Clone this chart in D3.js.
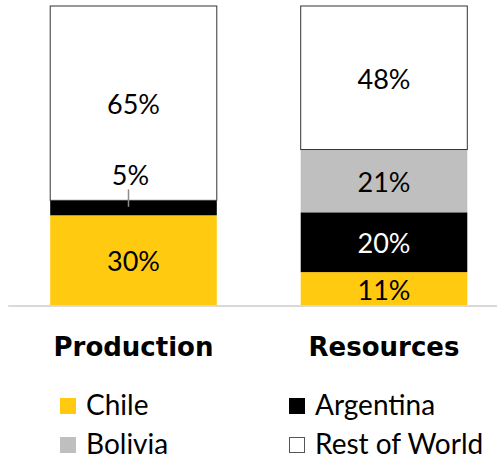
<!DOCTYPE html>
<html>
<head>
<meta charset="utf-8">
<script src="https://cdn.jsdelivr.net/npm/d3@7"></script>
<style>
  body { margin: 0; background: #fff; }
  svg { display: block; font-family: "Lato", "Open Sans", sans-serif; }
  .cat { font-family: "DejaVu Sans", sans-serif; }
</style>
</head>
<body>
<div id="chart"></div>
<script>
// categories and series (shares of total)
var categories = ["Production", "Resources"];
var countries = ["Chile", "Argentina", "Bolivia", "Rest of World"];
var chile = [0.30, 0.11];
var argentina = [0.05, 0.20];
var bolivia = [0.00, 0.21];
var restOfWorld = [0.65, 0.48];
var labels = {
  "Chile": ["30%", "11%"],
  "Argentina": ["5%", "20%"],
  "Bolivia": ["", "21%"],
  "Rest of World": ["65%", "48%"]
};
var legendOrder = [["Chile", "Argentina"], ["Bolivia", "Rest of World"]];

var pwidth = 497;
var pheight = 460;

var colors = {
  "Chile": "#ffca0f",
  "Argentina": "#000000",
  "Bolivia": "#bfbfbf",
  "Rest of World": "#ffffff"
};
var textColors = {
  "Chile": "#000",
  "Argentina": "#fff",
  "Bolivia": "#000",
  "Rest of World": "#000"
};

// build table for the stack
var table = categories.map(function(c, i) {
  return {
    category: c,
    "Chile": chile[i],
    "Argentina": argentina[i],
    "Bolivia": bolivia[i],
    "Rest of World": restOfWorld[i]
  };
});

var xScale = d3.scaleBand()
  .domain(categories)
  .range([8.25, 509.25])
  .paddingInner(0.335)
  .paddingOuter(0.1675);

var yScale = d3.scaleLinear()
  .domain([0, 1])
  .range([305, 6]);

var stack = d3.stack().keys(countries);
var series = stack(table);

var svg = d3.select("#chart").append("svg")
  .attr("width", pwidth)
  .attr("height", pheight);

// bars
var groups = svg.selectAll("g.series")
  .data(series)
  .enter().append("g")
  .attr("class", "series");

groups.selectAll("rect")
  .data(function(s) { return s.map(function(d) { return {key: s.key, d: d}; }); })
  .enter().append("rect")
  .filter(function(o) { return o.d[1] - o.d[0] > 0; })
  .attr("x", function(o) { return xScale(o.d.data.category); })
  .attr("width", xScale.bandwidth())
  .attr("y", function(o) { return yScale(o.d[1]); })
  .attr("height", function(o) { return yScale(o.d[0]) - yScale(o.d[1]); })
  .attr("fill", function(o) { return colors[o.key]; })
  .attr("stroke", function(o) { return o.key == "Rest of World" ? "#333" : "none"; })
  .attr("stroke-width", 1);

// baseline
svg.append("line")
  .attr("x1", xScale.range()[0])
  .attr("x2", xScale.range()[1])
  .attr("y1", yScale(0) + 1)
  .attr("y2", yScale(0) + 1)
  .attr("stroke", "#d9d9d9")
  .attr("stroke-width", 2);

// value labels
series.forEach(function(s) {
  s.forEach(function(d, i) {
    var txt = labels[s.key][i];
    if (!txt) return;
    var cx = xScale(d.data.category) + xScale.bandwidth() / 2;
    var cy = (yScale(d[0]) + yScale(d[1])) / 2;
    var h = yScale(d[0]) - yScale(d[1]);
    if (h < 20) {
      // small slice: label above with a leader line
      svg.append("line")
        .attr("x1", cx - 5).attr("x2", cx - 5)
        .attr("y1", yScale(d[1]) - 11)
        .attr("y2", cy - 1)
        .attr("stroke", "#8c8c8c")
        .attr("stroke-width", 1.5);
      svg.append("text")
        .attr("x", cx - 3)
        .attr("y", yScale(d[1]) - 15)
        .attr("text-anchor", "middle")
        .attr("font-size", 27)
        .attr("fill", "#000")
        .text(txt);
    } else {
      svg.append("text")
        .attr("x", cx)
        .attr("y", cy + 11)
        .attr("text-anchor", "middle")
        .attr("font-size", 27)
        .attr("fill", textColors[s.key])
        .text(txt);
    }
  });
});

// category labels
svg.selectAll(".cat")
  .data(categories)
  .enter().append("text")
  .attr("class", "cat")
  .attr("x", function(d) { return xScale(d) + xScale.bandwidth() / 2; })
  .attr("y", 356)
  .attr("text-anchor", "middle")
  .attr("font-size", 26)
  .attr("font-weight", "bold")
  .text(function(d) { return d; });

// legend
var legX = [60, 289];
var legY = [398, 437];
legendOrder.forEach(function(row, r) {
  row.forEach(function(key, c) {
    var g = svg.append("g")
      .attr("transform", "translate(" + legX[c] + "," + legY[r] + ")");
    g.append("rect")
      .attr("x", key == "Rest of World" ? 0.5 : 0)
      .attr("y", key == "Rest of World" ? 0.5 : 0)
      .attr("width", key == "Rest of World" ? 15 : 16)
      .attr("height", key == "Rest of World" ? 15 : 16)
      .attr("fill", colors[key])
      .attr("stroke", key == "Rest of World" ? "#555" : "none");
    g.append("text")
      .attr("x", 26)
      .attr("y", 16.5)
      .attr("font-size", 28)
      .text(key);
  });
});
</script>
</body>
</html>
